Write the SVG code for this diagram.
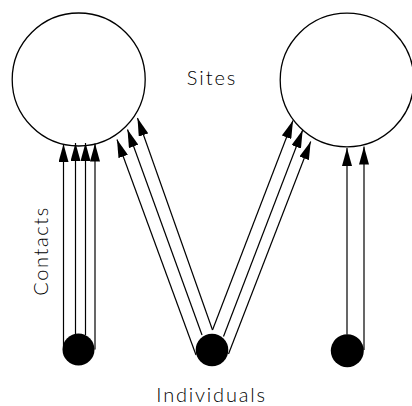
<svg xmlns="http://www.w3.org/2000/svg" width="412" height="406" viewBox="0 0 412 406">
  <style>
    .site { fill: #ffffff; stroke: #000000; stroke-width: 1.3; }
    .person { fill: #000000; }
    .contact { stroke: #000000; stroke-width: 1.2; fill: none; marker-end: url(#head); }
    .label { font-family: "Lato", "Liberation Sans", Arial, sans-serif; font-size: 20px; fill: #000000; font-weight: 300; }
  </style>
  <defs>
    <marker id="head" markerUnits="userSpaceOnUse" markerWidth="18" markerHeight="10" refX="18" refY="5" orient="auto">
      <path d="M0,0 L18,5 L0,10 z" fill="#000000"/>
    </marker>
  </defs>
  <rect width="412" height="406" fill="#ffffff"/>

  <!-- sites -->
  <g id="site-left"><circle class="site" cx="78.7" cy="79.5" r="66.5"/></g>
  <g id="site-right"><circle class="site" cx="347" cy="80" r="66.8"/></g>

  <!-- contacts: each line runs from an individual up to a site -->
  <g id="connectors">
    <line class="contact" x1="63.5" y1="349" x2="63.5" y2="144"/>
    <line class="contact" x1="75.5" y1="334" x2="75.5" y2="143"/>
    <line class="contact" x1="85.5" y1="335" x2="85.5" y2="143"/>
    <line class="contact" x1="95" y1="349.5" x2="95" y2="143.5"/>

    <line class="contact" x1="196" y1="355" x2="117" y2="139.5"/>
    <line class="contact" x1="202" y1="335" x2="127.5" y2="129.5"/>
    <line class="contact" x1="212.5" y1="330" x2="137.5" y2="118"/>

    <line class="contact" x1="212.5" y1="330" x2="293" y2="120.5"/>
    <line class="contact" x1="223.5" y1="336.5" x2="302.7" y2="130"/>
    <line class="contact" x1="228.5" y1="354" x2="310.7" y2="141.5"/>

    <line class="contact" x1="347" y1="334.5" x2="347" y2="148"/>
    <line class="contact" x1="364" y1="350" x2="364" y2="146.5"/>
  </g>

  <!-- individuals -->
  <g id="individual-1"><circle class="person" cx="78.5" cy="349.5" r="16"/></g>
  <g id="individual-2"><circle class="person" cx="212" cy="350" r="16.3"/></g>
  <g id="individual-3"><circle class="person" cx="347.3" cy="350.7" r="16.5"/></g>

  <!-- labels -->
  <g id="label-sites"><text class="label" x="212" y="84.5" text-anchor="middle" letter-spacing="2">Sites</text></g>
  <g id="label-individuals"><text class="label" x="211.5" y="402" text-anchor="middle" letter-spacing="1.8">Individuals</text></g>
  <g id="label-contacts"><text class="label" transform="translate(48,251) rotate(-90)" x="0" y="0" text-anchor="middle" letter-spacing="1.6">Contacts</text></g>
</svg>
